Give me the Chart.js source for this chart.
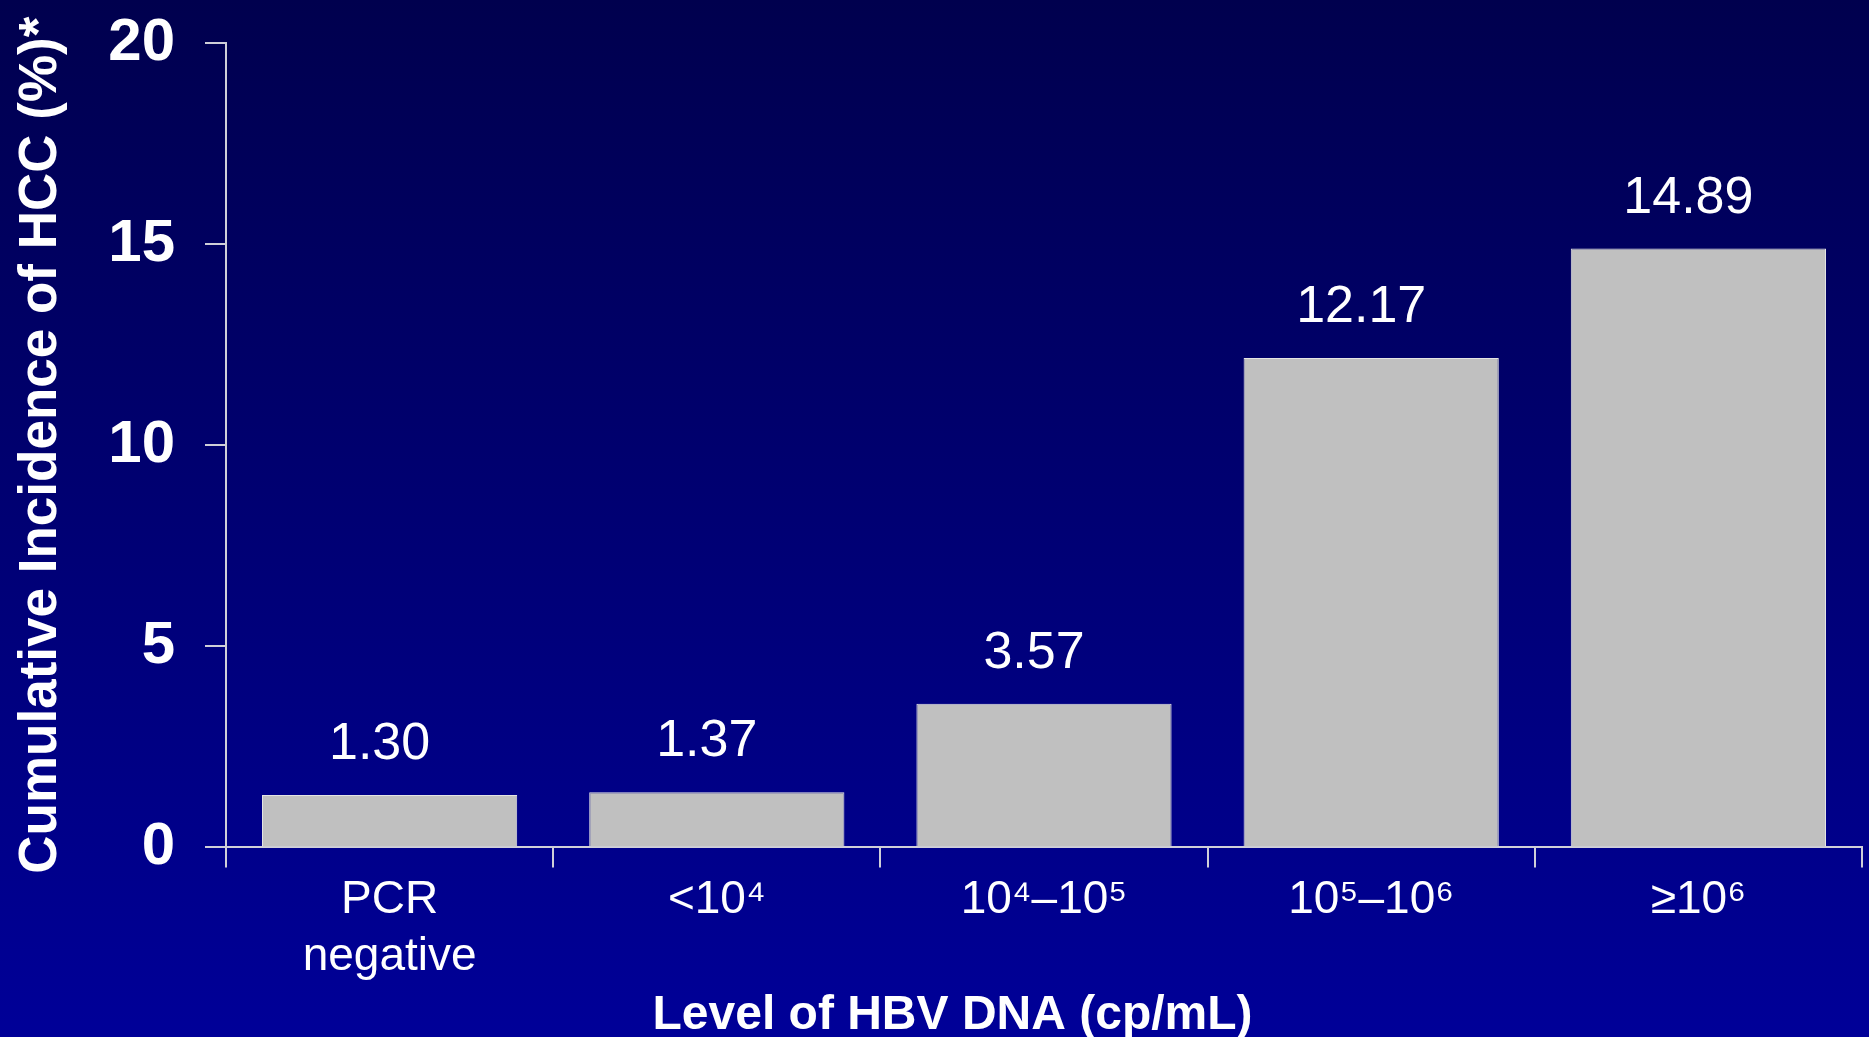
<!DOCTYPE html>
<html>
<head>
<meta charset="utf-8">
<script src="https://cdn.jsdelivr.net/npm/chart.js@4/dist/chart.umd.min.js"></script>
<style>
  html, body { margin: 0; padding: 0; }
  body { width: 1869px; height: 1037px; overflow: hidden; background: linear-gradient(#00004e, #000098); }
</style>
</head>
<body>
<canvas id="chart" width="1869" height="1037"></canvas>
<script>
const categories = [['PCR', 'negative'], '<10⁴', '10⁴–10⁵', '10⁵–10⁶', '≥10⁶']
const incidence = [1.30, 1.37, 3.57, 12.17, 14.89]
const yTicks = [0, 5, 10, 15, 20]

const FONT = '"Liberation Sans", Arial, sans-serif'
const LINE = '#cfcfd8'

// numbers above the bars
const valueLabels = {
    id: 'valueLabels',
    afterDatasetsDraw(chart) {
        const ctx = chart.ctx
        const meta = chart.getDatasetMeta(0)
        ctx.save()
        ctx.fillStyle = '#ffffff'
        ctx.font = '52px ' + FONT
        ctx.textAlign = 'center'
        ctx.textBaseline = 'alphabetic'
        meta.data.forEach((bar, i) => {
            ctx.fillText(incidence[i].toFixed(2), bar.x - 10, bar.y - 36)
        })
        ctx.restore()
    }
}

new Chart('chart', {
    type: 'bar',
    data: {
        labels: categories,
        datasets: [{
            data: incidence,
            backgroundColor: '#c0c0c0',
            borderColor: '#e4e4e4',
            borderWidth: 1,
            barPercentage: 0.78,
            categoryPercentage: 1
        }]
    },
    options: {
        responsive: false,
        devicePixelRatio: 1,
        animation: false,
        layout: { padding: { left: 43, right: 7, top: 43, bottom: 0 } },
        plugins: {
            legend: { display: false },
            tooltip: { enabled: false },
            title: {
                display: true,
                position: 'bottom',
                text: 'Level of HBV DNA (cp/mL)',
                color: '#ffffff',
                font: { family: FONT, size: 48, weight: 'bold' },
                padding: { top: 0, bottom: -8 }
            }
        },
        scales: {
            x: {
                afterFit(scale) { scale.height = 140 },
                grid: { offset: true, drawOnChartArea: false, tickLength: 20, color: LINE, lineWidth: 2 },
                border: { color: LINE, width: 2 },
                ticks: {
                    color: '#ffffff',
                    padding: 4,
                    maxRotation: 0,
                    font: { family: FONT, size: 46, lineHeight: 1.25 }
                }
            },
            y: {
                min: 0,
                max: 20,
                afterFit(scale) {
                    scale.width = 183
                    scale.paddingTop = 0
                    scale.paddingBottom = 0
                },
                afterBuildTicks(scale) { scale.ticks = yTicks.map(v => ({ value: v })) },
                grid: { drawOnChartArea: false, tickLength: 21, color: LINE, lineWidth: 2 },
                border: { color: LINE, width: 2 },
                ticks: {
                    color: '#ffffff',
                    padding: 30,
                    font: { family: FONT, size: 60, weight: 'bold' }
                },
                title: {
                    display: true,
                    text: 'Cumulative Incidence of HCC (%)*',
                    color: '#ffffff',
                    font: { family: FONT, size: 53, weight: 'bold' },
                    padding: { top: -33, bottom: 0 }
                }
            }
        }
    },
    plugins: [valueLabels]
})
</script>
</body>
</html>
